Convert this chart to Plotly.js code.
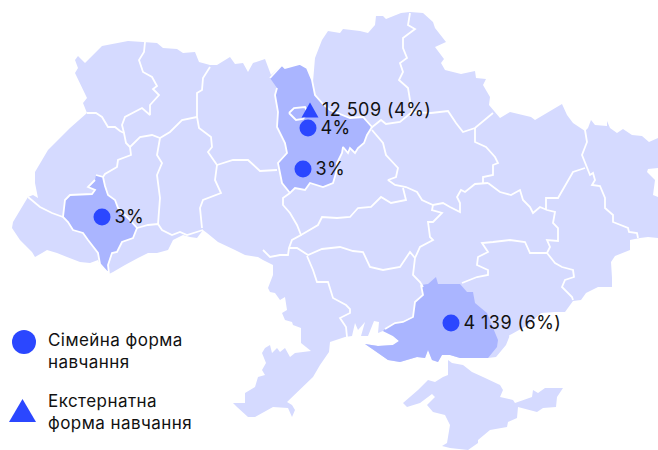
<!DOCTYPE html>
<html><head><meta charset="utf-8">
<script src="https://cdn.plot.ly/plotly-3.0.1.min.js"></script>
<style>html,body{margin:0;padding:0;background:#fff}#c{width:658px;height:450px}#c text{letter-spacing:.45px}</style>
</head><body><div id="c"></div>
<script>
// map outlines (x, y pairs in picture coordinates)
const mainland = [[75,60],[78,56],[85,63],[90,58],[102,46],[128,41],[143,42],[157,43],[163,48],[177,49],[183,53],[195,52],[199,62],[210,65],[217,65],[230,57],[235,64],[243,63],[248,72],[253,63],[265,59],[271,75],[282,65],[285,68],[302,65],[308,72],[313,82],[315,58],[322,40],[328,31],[340,33],[343,29],[360,31],[368,33],[375,25],[376,16],[383,16],[386,19],[401,13],[410,12],[423,13],[433,22],[435,28],[446,42],[435,47],[444,59],[441,63],[445,70],[461,74],[475,71],[476,78],[486,79],[483,85],[490,97],[489,105],[500,118],[510,112],[531,117],[535,120],[562,104],[567,115],[573,123],[585,131],[588,128],[591,120],[595,125],[607,126],[607,121],[610,128],[617,133],[623,129],[632,135],[642,136],[649,142],[658,138],[658,168],[648,169],[647,172],[655,180],[653,195],[658,197],[658,238],[648,237],[640,238],[630,240],[630,250],[615,256],[611,262],[612,278],[612,287],[598,287],[586,293],[581,300],[573,301],[565,312],[555,312],[541,313],[528,325],[510,335],[506,345],[496,357],[488,358],[460,358],[450,355],[442,355],[438,362],[432,360],[428,350],[425,358],[417,357],[400,362],[388,360],[378,353],[365,344],[378,346],[393,345],[399,341],[393,336],[383,331],[378,333],[379,322],[374,321],[368,336],[361,336],[365,322],[358,330],[355,323],[352,336],[345,337],[330,342],[329,352],[320,365],[313,377],[287,402],[292,405],[295,410],[292,417],[288,408],[273,407],[255,417],[248,417],[237,407],[233,403],[245,403],[245,393],[255,387],[258,377],[265,375],[262,370],[266,363],[262,353],[265,348],[270,345],[272,353],[277,348],[280,352],[285,348],[290,357],[295,353],[311,351],[301,343],[301,328],[293,325],[292,322],[285,320],[282,313],[287,310],[285,297],[280,300],[275,293],[270,292],[268,288],[273,275],[273,265],[263,260],[258,257],[245,255],[235,250],[218,242],[207,233],[203,230],[197,238],[190,237],[183,235],[173,240],[168,250],[157,253],[148,253],[138,258],[125,265],[113,272],[109,274],[100,265],[98,260],[90,263],[80,262],[67,257],[57,253],[47,250],[42,253],[35,257],[32,252],[25,245],[20,240],[12,228],[13,222],[22,207],[28,197],[33,195],[38,198],[35,183],[35,172],[48,150],[70,128],[87,113],[83,103],[87,98],[75,73],[78,68]];
const crimea = [[403,403],[418,390],[428,380],[435,382],[443,377],[448,375],[448,360],[452,363],[463,365],[472,372],[483,377],[500,385],[503,390],[500,397],[513,400],[515,403],[532,397],[533,390],[538,393],[545,388],[563,388],[557,397],[556,407],[543,408],[537,412],[518,407],[517,418],[508,422],[507,427],[490,430],[478,440],[478,443],[468,450],[450,448],[442,446],[447,443],[450,425],[445,415],[433,412],[427,405],[435,397],[432,394],[420,403],[407,407]];
const kyivRegion = [[270,78],[278,70],[282,65],[285,68],[300,64],[307,68],[312,80],[315,95],[323,104],[330,110],[340,114],[350,118],[363,117],[372,127],[367,135],[364,143],[358,148],[355,153],[350,148],[348,153],[343,147],[342,153],[337,163],[336,173],[333,183],[323,187],[310,183],[305,190],[295,188],[290,193],[282,183],[278,163],[287,153],[285,143],[277,127],[278,112],[275,95],[277,88]];
const kyivCity = [[289,113],[294,108],[305,107],[308,113],[303,119],[296,120],[293,117],[289,113]];
const frankivskRegion = [[96,175],[103,177],[105,186],[108,195],[115,200],[118,208],[128,218],[137,228],[133,238],[122,242],[117,252],[112,253],[108,265],[109,274],[100,264],[98,253],[88,240],[83,233],[73,230],[68,222],[63,217],[65,200],[70,195],[92,194],[95,190],[88,187],[95,180]];
const zaporizhRegion = [[421,285],[428,284],[436,277],[438,284],[460,284],[467,292],[473,292],[475,303],[487,313],[498,340],[497,347],[488,358],[460,358],[450,355],[442,355],[438,362],[432,360],[428,350],[425,358],[417,357],[400,362],[388,360],[378,353],[365,344],[378,346],[393,345],[399,341],[393,336],[383,331],[385,329],[395,323],[403,322],[413,317],[415,302],[423,295]];
const zaporizhNorthEdge = [[421,285],[423,295],[415,302],[413,317],[403,322],[395,323],[385,329]];
const borders = [
 [[145,42],[144,52],[139,60],[143,72],[152,77],[157,86],[153,89],[159,95],[150,105],[150,115],[142,108],[132,113],[125,117],[122,125],[124,133]],
 [[87,113],[96,113],[102,117],[108,127],[115,127],[120,131],[124,133],[126,143],[130,147]],
 [[130,147],[140,137],[152,135],[160,138],[170,132],[182,120],[197,117]],
 [[210,67],[203,78],[202,90],[197,93],[197,117],[199,128],[211,137],[212,147],[208,152],[217,165]],
 [[217,165],[233,160],[248,160],[260,171],[277,170]],
 [[130,147],[131,155],[118,160],[117,167],[105,174],[103,177]],
 [[160,138],[157,155],[162,163],[157,175],[160,198],[158,224]],
 [[137,228],[148,225],[158,224],[162,230],[172,235],[180,232],[187,235],[203,230]],
 [[217,165],[215,180],[221,193],[203,200],[200,208],[202,228]],
 [[290,193],[283,198],[283,205],[290,213],[297,225],[301,235],[292,240],[289,248],[288,255],[280,255],[270,257],[263,250]],
 [[301,235],[318,225],[322,217],[337,218],[350,217],[358,208],[371,207],[381,197],[391,203],[406,200],[403,188]],
 [[372,130],[383,143],[386,155],[398,168],[396,177],[388,180],[395,185],[406,187],[417,192],[422,200],[433,205],[443,203],[450,207],[460,212],[460,203],[457,197],[461,190],[465,192],[475,184],[488,183]],
 [[433,205],[432,210],[442,213],[433,222],[428,222],[430,237],[433,240],[420,247],[415,258],[413,275],[420,282],[423,287]],
 [[289,248],[297,248],[308,255],[322,249],[340,247],[353,251],[363,252],[370,267],[383,270],[400,267],[410,252],[415,258]],
 [[307,256],[313,270],[317,282],[328,282],[333,298],[346,305],[350,309],[350,313],[340,318],[346,327],[347,337]],
 [[410,13],[408,25],[415,29],[403,38],[403,48],[407,58],[400,63],[403,72],[399,80],[408,88],[410,100],[412,112]],
 [[371,128],[381,120],[386,124],[400,122],[412,112],[431,113],[448,111],[456,123],[463,132],[475,128],[493,113]],
 [[475,128],[475,142],[486,147],[495,157],[498,163],[493,165],[493,175],[483,177],[483,183]],
 [[488,183],[500,192],[511,195],[520,190],[523,200],[530,207],[533,213],[540,207],[547,210],[555,212],[553,223],[558,228],[558,241],[547,240],[550,247],[547,253]],
 [[546,209],[546,198],[558,198],[573,172],[585,168]],
 [[585,130],[587,142],[582,155],[587,168],[590,175],[593,173],[595,180],[592,185],[600,186],[605,198],[605,208],[613,215],[613,222],[628,228],[629,232],[637,233],[638,238]],
 [[547,253],[555,263],[562,267],[573,270],[574,277],[565,280],[562,287],[572,297],[573,300]],
 [[547,253],[530,253],[525,242],[510,240],[493,242],[482,243],[488,252],[478,257],[477,265],[488,270],[488,275],[477,277],[462,283]],
 [[28,197],[40,207],[52,213],[63,217]],
 [[510,335],[512,343],[504,352],[498,358]],
 kyivCity, zaporizhNorthEdge
];
// data labels and legend
const familyX = [102,308,303,451];
const familyY = [217,128,169,323];
const familyLabels = ['3%','4%','3%','4 139 (6%)'];
const externX = [310];
const externY = [110];
const externLabels = ['12 509 (4%)'];
const legendCircleX = [24], legendCircleY = [342];
const legendTriX = [22.5], legendTriY = [410.5];
const legendTexts = ['Сімейна форма<br>навчання','Екстернатна<br>форма навчання'];
const legendTextY = [350.5,412];

const LIGHT='#d5daff', DARK='#aab5ff', BLUE='#2b47ff', INK='#111111', FONT='Inter, sans-serif';
const xs=p=>p.map(q=>q[0]), ys=p=>p.map(q=>q[1]);
const poly=(p,fill,line)=>({type:'scatter',mode:line?'lines':'none',x:xs(p),y:ys(p),fill:'toself',fillcolor:fill,
  line:line?{color:'#fff',width:1.8}:{width:0},hoverinfo:'skip'});
// triangle symbol of the wanted proportions around a data position
const tri=(cx,cy,w,h)=>({type:'scatter',mode:'none',fill:'toself',fillcolor:BLUE,hoverinfo:'skip',
  x:[cx-w/2,cx+w/2,cx,cx-w/2],y:[cy+h/2,cy+h/2,cy-h/2,cy+h/2]});
const labelTrace=(x,y,t,dx)=>({type:'scatter',mode:'text',x:x.map(v=>v+dx),y:y.map(v=>v+1.5),text:t,textposition:'middle right',
  textfont:{family:FONT,size:18,color:INK},hoverinfo:'skip',cliponaxis:false});
const traces=[poly(mainland,LIGHT),poly(crimea,LIGHT),poly(kyivRegion,DARK,true),poly(frankivskRegion,DARK,true),poly(zaporizhRegion,DARK,false)];
borders.forEach(b=>traces.push({type:'scatter',mode:'lines',x:xs(b),y:ys(b),line:{color:'#fff',width:1.8},hoverinfo:'skip'}));
traces.push({type:'scatter',mode:'markers',x:familyX,y:familyY,marker:{symbol:'circle',size:17,color:BLUE},hoverinfo:'skip'});
traces.push(labelTrace(familyX,familyY,familyLabels,12.5));
traces.push(tri(externX[0],externY[0],17,15));
traces.push(labelTrace(externX,externY,externLabels,12));
traces.push({type:'scatter',mode:'markers',x:legendCircleX,y:legendCircleY,marker:{symbol:'circle',size:24,color:BLUE},hoverinfo:'skip'});
traces.push(tri(legendTriX[0],legendTriY[0],27,23));
const ax=r=>({range:r,visible:false,fixedrange:true,showgrid:false,zeroline:false});
Plotly.newPlot('c',traces,{width:658,height:450,margin:{l:0,r:0,t:0,b:0},showlegend:false,paper_bgcolor:'#fff',plot_bgcolor:'#fff',
  xaxis:ax([0,658]),yaxis:ax([450,0]),
  annotations:legendTexts.map((t,i)=>({text:t,x:46,y:legendTextY[i],xref:'x',yref:'y',xanchor:'left',yanchor:'middle',align:'left',showarrow:false,
    font:{family:FONT,size:17,color:INK}}))},{displayModeBar:false,staticPlot:true});
</script></body></html>
